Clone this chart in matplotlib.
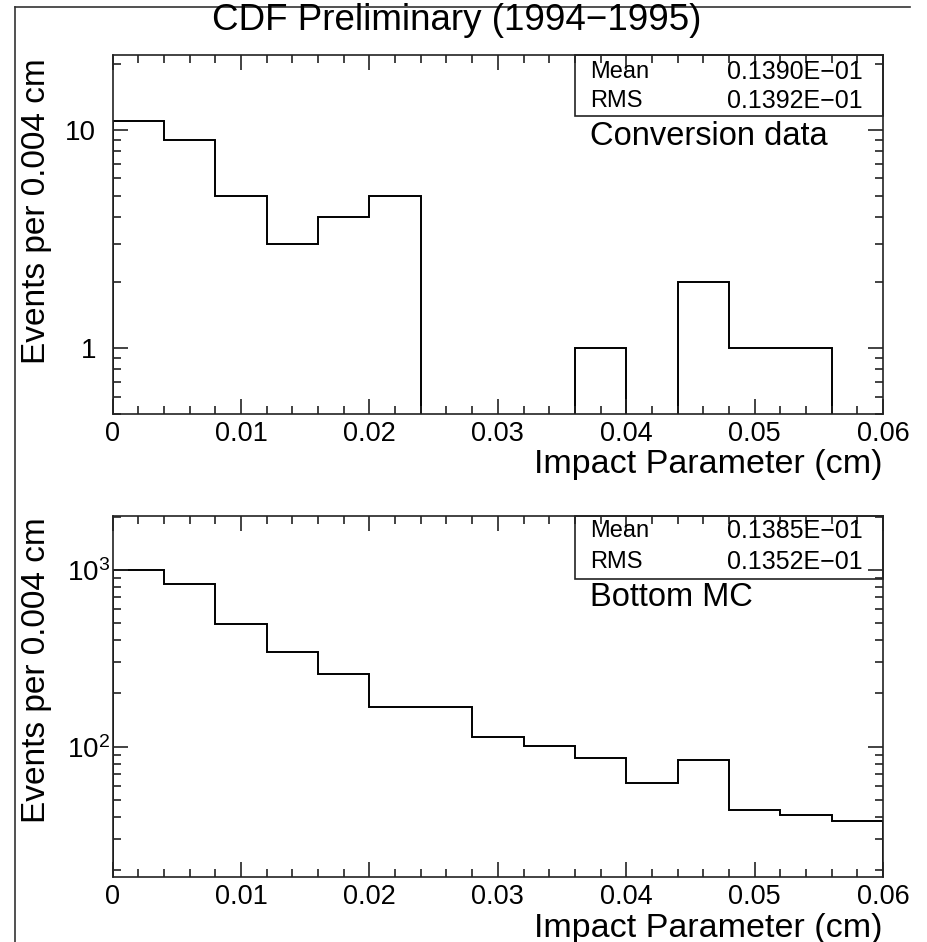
import numpy as np
import matplotlib
matplotlib.use("Agg")
import matplotlib.pyplot as plt
from matplotlib.ticker import FixedLocator, FixedFormatter, MultipleLocator, LogLocator, NullFormatter
from matplotlib.patches import Rectangle

plt.rcParams['font.family'] = ['Liberation Sans', 'DejaVu Sans']
plt.rcParams['mathtext.fontset'] = 'custom'
plt.rcParams['mathtext.rm'] = 'Liberation Sans'
plt.rcParams['mathtext.it'] = 'Liberation Sans'
plt.rcParams['mathtext.bf'] = 'Liberation Sans'

# ---- data ----
bin_edges = np.round(np.arange(0, 0.0601, 0.004), 4)
conv_counts = [11, 9, 5, 3, 4, 5, 0, 0, 0, 1, 0, 2, 1, 1, 0]
mc_counts = [995, 830, 493, 342, 259, 167, 167, 113, 101, 86, 62, 84, 44, 41, 38]

title = "CDF Preliminary (1994\u22121995)"
ylabel = "Events per 0.004 cm"
xlabel = "Impact Parameter (cm)"
conv_label = "Conversion data"
mc_label = "Bottom MC"
conv_stats = [("Mean", "0.1390E\u221201"), ("RMS", "0.1392E\u221201")]
mc_stats = [("Mean", "0.1385E\u221201"), ("RMS", "0.1352E\u221201")]
xticks = [0, 0.01, 0.02, 0.03, 0.04, 0.05, 0.06]
xticklabels = ["0", "0.01", "0.02", "0.03", "0.04", "0.05", "0.06"]

W, H = 927, 942
fig = plt.figure(figsize=(W / 100, H / 100), dpi=100)

def fx(px):
    return px / W

def fy(py):
    return 1 - py / H

left, right = 112.7, 883
ax1 = fig.add_axes([fx(left), fy(414), fx(right - left), (414 - 55) / H])
ax2 = fig.add_axes([fx(left), fy(877), fx(right - left), (877 - 516) / H])

def style(ax, ylim, yticks, ylabels, ypad):
    ax.set_yscale('log')
    ax.set_xlim(0, 0.06)
    ax.set_ylim(*ylim)
    for s in ax.spines.values():
        s.set_linewidth(1.2)
        s.set_color('#222222')
    ax.xaxis.set_major_locator(FixedLocator(xticks))
    ax.xaxis.set_major_formatter(FixedFormatter(xticklabels))
    ax.xaxis.set_minor_locator(MultipleLocator(0.002))
    ax.yaxis.set_major_locator(FixedLocator(yticks))
    ax.yaxis.set_major_formatter(FixedFormatter(ylabels))
    ax.yaxis.set_minor_locator(LogLocator(base=10, subs=np.arange(2, 10)))
    ax.yaxis.set_minor_formatter(NullFormatter())
    ax.tick_params(which='both', direction='in', top=True, right=True,
                   width=1.2, color='#222222')
    ax.tick_params(which='major', length=11)
    ax.tick_params(which='minor', length=5.5)
    ax.tick_params(axis='x', which='major', labelsize=19.5, pad=5)
    ax.tick_params(axis='y', which='major', labelsize=20, pad=ypad)

style(ax1, (0.5, 22), [1, 10], ["1", "10"], 12)
style(ax2, (18.3, 2020), [100, 1000], ["$10^{2}$", "$10^{3}$"], 2)

ax1.stairs(conv_counts, bin_edges, color='black', linewidth=1.4, baseline=0)
ax2.stairs(mc_counts, bin_edges, color='black', linewidth=1.4, baseline=0)

def statbox(ax, stats, label, ybot, ys, ylab):
    ax.add_patch(Rectangle((0.600, ybot), 0.400, 1 - ybot, transform=ax.transAxes,
                           fill=False, edgecolor='#222222', linewidth=1.2, clip_on=False))
    for (name, val), yy in zip(stats, ys):
        ax.text(0.620, yy, name, transform=ax.transAxes, fontsize=17,
                ha='left', va='center')
        ax.text(0.974, yy, val, transform=ax.transAxes, fontsize=18,
                ha='right', va='center')
    ax.text(0.620, ylab, label, transform=ax.transAxes, fontsize=23.5,
            ha='left', va='center')

statbox(ax1, conv_stats, conv_label, 0.830, [0.953, 0.872], 0.774)
statbox(ax2, mc_stats, mc_label, 0.8255, [0.958, 0.872], 0.773)

# labels
fig.text(0.493, fy(21), title, fontsize=26.5, ha='center', va='center')
fig.text(fx(37), fy(58), ylabel, fontsize=24, rotation=90, ha='center', va='top')
fig.text(fx(37), fy(517), ylabel, fontsize=24, rotation=90, ha='center', va='top')
fig.text(fx(right), fy(465), xlabel, fontsize=24.5, ha='right', va='center')
fig.text(fx(right), fy(928), xlabel, fontsize=24.5, ha='right', va='center')

# page frame (left and top)
fig.add_artist(plt.Line2D([fx(15), fx(15)], [fy(7), 0], transform=fig.transFigure,
                          color='#333333', linewidth=1.2))
fig.add_artist(plt.Line2D([fx(15), fx(910)], [fy(7), fy(7)], transform=fig.transFigure,
                          color='#333333', linewidth=1.2))

fig.savefig("out.png", dpi=100)
